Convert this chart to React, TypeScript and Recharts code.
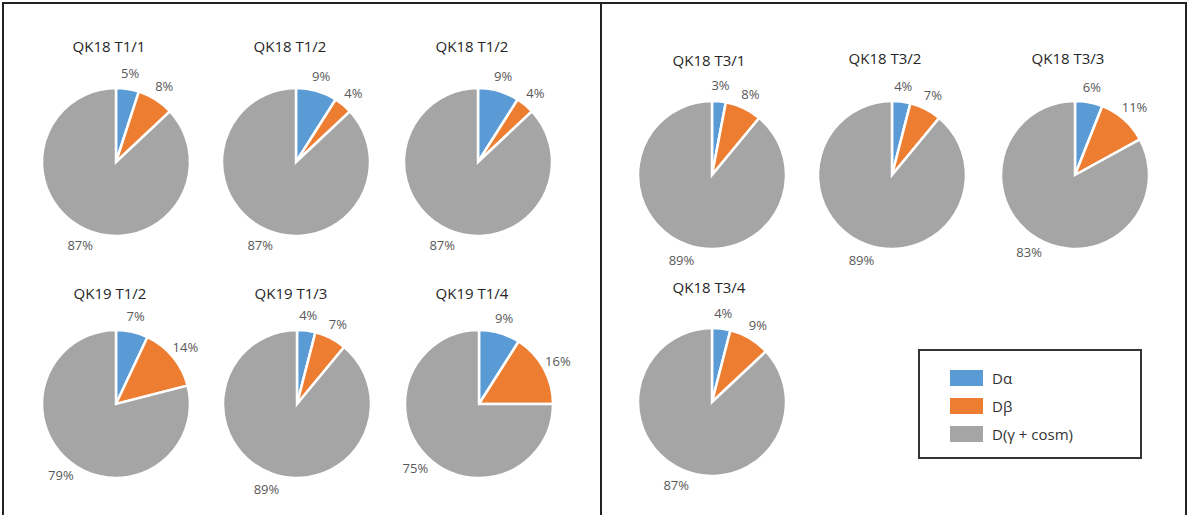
import { PieChart, Pie, Cell } from 'recharts';

// Sample names, one pie each
const SAMPLES = [
  'QK18 T1/1', 'QK18 T1/2', 'QK18 T1/2',
  'QK19 T1/2', 'QK19 T1/3', 'QK19 T1/4',
  'QK18 T3/1', 'QK18 T3/2', 'QK18 T3/3', 'QK18 T3/4',
];
const CATEGORIES = ['Dα', 'Dβ', 'D(γ + cosm)'];
// Percent share of each dose component per sample
const D_ALPHA = [5, 9, 9, 7, 4, 9, 3, 4, 6, 4];
const D_BETA = [8, 4, 4, 14, 7, 16, 8, 7, 11, 9];
const D_REST = [87, 87, 87, 79, 89, 75, 89, 89, 83, 87];

const COLORS = ['#5B9BD5', '#ED7D31', '#A5A5A5'];
const FONT = '"Open Sans", sans-serif';
const RADIUS = 74;
const RADIAN = Math.PI / 180;

// where each pie sits on the page (centre + title centre)
const LAYOUT = [
  { cx: 116, cy: 162, tx: 109, ty: 46 },
  { cx: 296, cy: 162, tx: 290, ty: 46 },
  { cx: 478, cy: 162, tx: 472, ty: 46 },
  { cx: 116, cy: 404, tx: 110, ty: 293 },
  { cx: 297, cy: 404, tx: 291, ty: 293 },
  { cx: 479, cy: 404, tx: 472, ty: 293 },
  { cx: 712, cy: 175, tx: 709, ty: 60 },
  { cx: 892, cy: 175, tx: 885, ty: 58 },
  { cx: 1075, cy: 175, tx: 1068, ty: 58 },
  { cx: 712, cy: 402, tx: 709, ty: 287 },
];

const pieData = SAMPLES.map((name, i) => ({
  name,
  slices: [
    { name: CATEGORIES[0], value: D_ALPHA[i] },
    { name: CATEGORIES[1], value: D_BETA[i] },
    { name: CATEGORIES[2], value: D_REST[i] },
  ],
}));

const renderLabel = (props: any) => {
  const { cx, cy, midAngle, outerRadius, value } = props;
  const r = outerRadius + 16;
  const x = cx + r * Math.cos(-midAngle * RADIAN);
  const y = cy + r * Math.sin(-midAngle * RADIAN);
  return (
    <text
      x={x}
      y={y}
      textAnchor="middle"
      dominantBaseline="central"
      fill="#595959"
      fontSize={13}
      fontFamily={FONT}
    >
      {`${value}%`}
    </text>
  );
};

export default function App() {
  return (
    <div
      style={{
        position: 'absolute',
        left: 0,
        top: 0,
        width: 1187,
        height: 515,
        background: '#fff',
        overflow: 'hidden',
        fontFamily: FONT,
      }}
    >
      {/* frame + divider */}
      <div
        style={{
          position: 'absolute',
          left: 2,
          top: 2,
          width: 1181,
          height: 530,
          border: '2px solid #222',
        }}
      />
      <div style={{ position: 'absolute', left: 600, top: 2, width: 2, height: 515, background: '#222' }} />

      <PieChart width={1187} height={515} margin={{ top: 0, right: 0, bottom: 0, left: 0 }}>
        {pieData.map((p, i) => (
          <Pie
            key={i}
            data={p.slices}
            dataKey="value"
            nameKey="name"
            cx={LAYOUT[i].cx}
            cy={LAYOUT[i].cy}
            outerRadius={RADIUS}
            startAngle={90}
            endAngle={-270}
            stroke="#fff"
            strokeWidth={2.5}
            label={renderLabel}
            labelLine={false}
            isAnimationActive={false}
          >
            {p.slices.map((s, j) => (
              <Cell key={s.name} fill={COLORS[j]} />
            ))}
          </Pie>
        ))}
      </PieChart>

      {pieData.map((p, i) => (
        <div
          key={i}
          style={{
            position: 'absolute',
            left: LAYOUT[i].tx,
            top: LAYOUT[i].ty,
            transform: 'translate(-50%, -50%)',
            fontSize: 15,
            color: '#262626',
            whiteSpace: 'nowrap',
          }}
        >
          {p.name}
        </div>
      ))}

      {/* legend */}
      <div
        style={{
          position: 'absolute',
          left: 918,
          top: 349,
          width: 220,
          height: 106,
          border: '2px solid #333',
        }}
      >
        {CATEGORIES.map((c, j) => (
          <div
            key={c}
            style={{
              position: 'absolute',
              left: 30,
              top: 17 + j * 28,
              display: 'flex',
              alignItems: 'center',
              fontSize: 15,
              color: '#333',
            }}
          >
            <span style={{ width: 33, height: 16, background: COLORS[j], marginRight: 9 }} />
            {c}
          </div>
        ))}
      </div>
    </div>
  );
}
